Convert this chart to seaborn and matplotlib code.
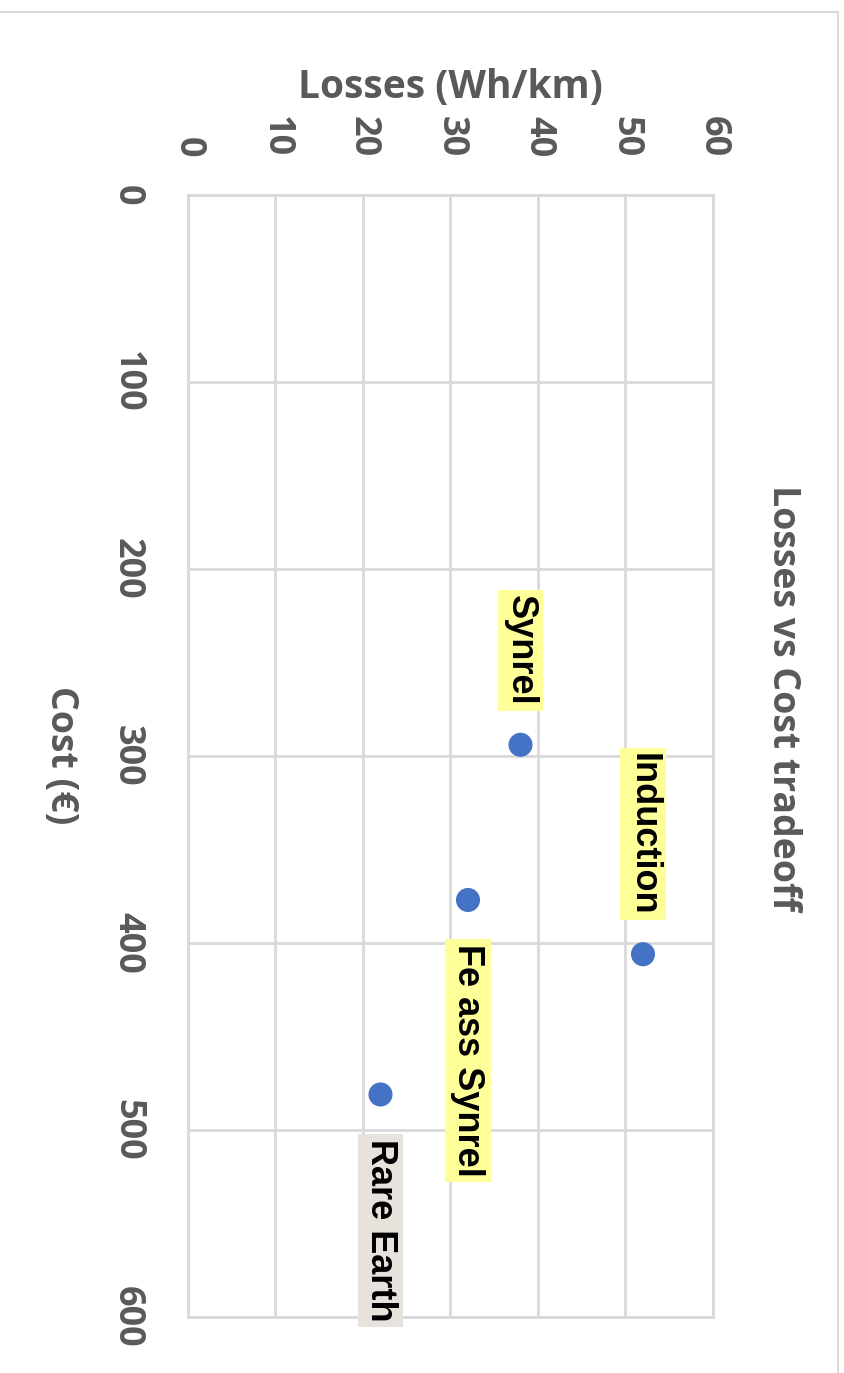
import numpy as np
import pandas as pd
import matplotlib.pyplot as plt
import seaborn as sns
from matplotlib.lines import Line2D

sns.set_style('white')
plt.rcParams['font.family'] = ['Open Sans', 'DejaVu Sans']

motors = ['Synrel', 'Induction', 'Fe ass Synrel', 'Rare Earth']
cost = [294, 406, 377, 481]        # €
losses = [38, 52, 32, 22]          # Wh/km
label_side = ['before', 'before', 'after', 'after']
label_color = ['#FFFF99', '#FFFF99', '#FFFF99', '#E8E2DD']

df = pd.DataFrame({'motor': motors, 'cost': cost, 'losses': losses})

grey = '#595959'
gridc = '#D9D9D9'

fig = plt.figure(figsize=(8.45, 13.73), dpi=100)
ax = fig.add_axes([188/845, 1 - 1317/1373, (713 - 188)/845, (1317 - 195)/1373])

# chart is turned a quarter clockwise: losses run left->right, cost top->bottom
sns.scatterplot(data=df, x='losses', y='cost', ax=ax, s=300, color='#4472C4',
                edgecolor='none', zorder=3)

ax.set_xlim(0, 60)
ax.set_ylim(600, 0)
ax.set_xticks(np.arange(0, 61, 10))
ax.set_yticks(np.arange(0, 601, 100))
ax.grid(True, color=gridc, lw=2)
for s in ax.spines.values():
    s.set_color(gridc)
    s.set_linewidth(2)

ax.xaxis.tick_top()
ax.xaxis.set_label_position('top')
ax.tick_params(axis='both', length=0, labelsize=26, labelcolor=grey)
ax.tick_params(axis='x', pad=27)
ax.tick_params(axis='y', pad=31)
for t in ax.get_xticklabels():
    t.set_rotation(-90)
    t.set_fontweight('bold')
    t.set_va('bottom')
for t in ax.get_yticklabels():
    t.set_rotation(-90)
    t.set_fontweight('bold')
    t.set_va('center')

ax.set_xlabel('Losses (Wh/km)', fontsize=28, fontweight='bold', color=grey,
              labelpad=13)
ax.set_ylabel('')
fig.text(61/845, 1 - 755/1373, 'Cost (€)', rotation=-90, ha='center',
         va='center', fontsize=27, fontweight='bold', color=grey)

fig.text(783/845, 1 - 698/1373, 'Losses vs Cost tradeoff', rotation=-90,
         ha='center', va='center', fontsize=27, fontweight='bold', color=grey)

for m, c, l, side, bc in zip(motors, cost, losses, label_side, label_color):
    if side == 'before':
        off, va = (0, 28), 'bottom'
    else:
        off, va = (0, -32), 'top'
    ax.annotate(m, (l, c), xytext=off, textcoords='offset points',
                rotation=-90, ha='center', va=va, fontsize=26,
                fontweight='bold', fontfamily=['Liberation Sans'], color='black',
                bbox=dict(boxstyle='square,pad=0.14', fc=bc, ec='none'),
                zorder=4)

# outer chart-area border (cropped on the left and bottom)
yb = 1 - 12/1373
fig.add_artist(Line2D([0, 838/845], [yb, yb], color=gridc, lw=1.5))
fig.add_artist(Line2D([838/845, 838/845], [yb, 0], color=gridc, lw=1.5))

fig.savefig('out.png', dpi=100)
